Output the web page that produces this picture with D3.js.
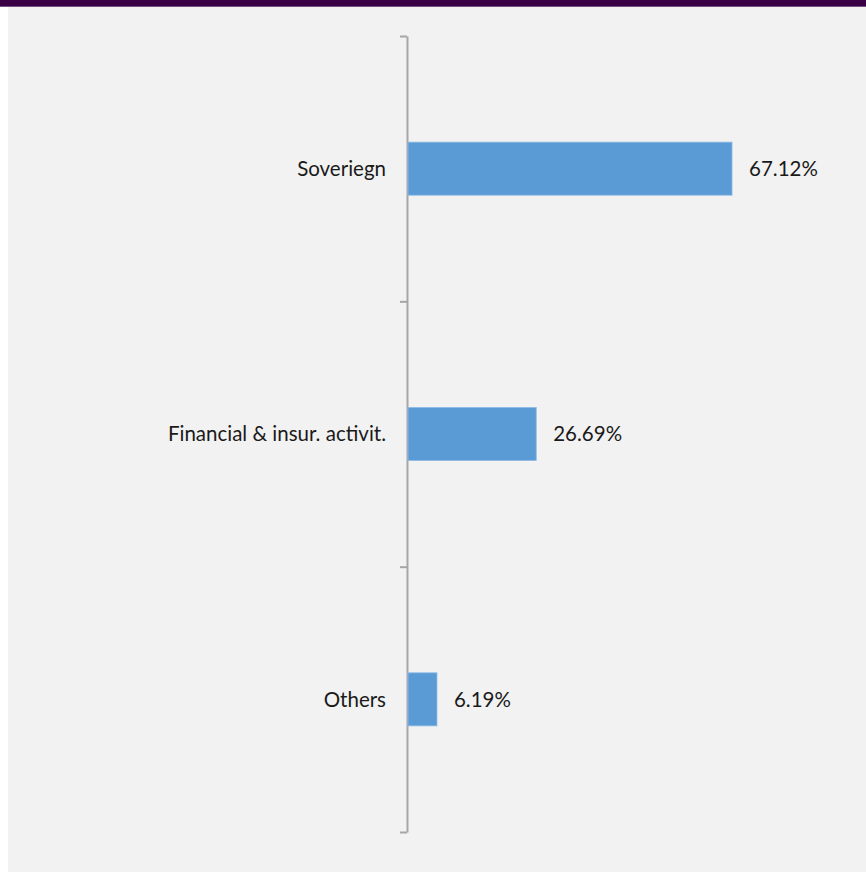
<!DOCTYPE html>
<html>
<head>
<meta charset="utf-8">
<script src="https://cdn.jsdelivr.net/npm/d3@7"></script>
<style>
  html, body { margin: 0; padding: 0; background: #ffffff; }
  #bar-chart { width: 866px; height: 872px; }
  .chart-label { font-family: Lato, "Noto Sans", sans-serif; font-size: 20.5px; fill: #1a1a1a; }
</style>
</head>
<body>
<div id="bar-chart"></div>
<script>
// Data
const categories = ["Soveriegn", "Financial & insur. activit.", "Others"];
const shares = [67.12, 26.69, 6.19];
const valueLabels = ["67.12%", "26.69%", "6.19%"];

const data = categories.map((c, i) => ({category: c, share: shares[i], label: valueLabels[i]}));

const drawBarChart = (data) => {

  /*******************************/
  /*    Declare the constants    */
  /*******************************/
  const width = 866;
  const height = 872;
  const margin = {top: 36, right: 72, bottom: 40, left: 407};
  const innerWidth = width - margin.left - margin.right;
  const innerHeight = height - margin.top - margin.bottom;

  const barColor = "#5b9bd5";
  const axisColor = "#a6a6a6";

  /*******************************/
  /*    Append the containers    */
  /*******************************/
  const svg = d3.select("#bar-chart")
    .append("svg")
      .attr("width", width)
      .attr("height", height)
      .attr("viewBox", `0, 0, ${width}, ${height}`);

  // Panel background and header band
  svg.append("rect")
      .attr("x", 8)
      .attr("y", 0)
      .attr("width", width - 8)
      .attr("height", height)
      .attr("fill", "#f2f2f2");
  svg.append("rect")
      .attr("x", 0)
      .attr("y", 0)
      .attr("width", width)
      .attr("height", 6)
      .attr("fill", "#3a0045");
  svg.append("rect")
      .attr("x", 0)
      .attr("y", 6)
      .attr("width", width)
      .attr("height", 1)
      .attr("fill", "#7a4f86");

  const innerChart = svg
    .append("g")
      .attr("transform", `translate(${margin.left}, ${margin.top})`);

  /****************************/
  /*    Declare the scales    */
  /****************************/
  const xScale = d3.scaleLinear()
    .domain([0, 80])
    .range([0, 387.4]);

  const yScale = d3.scaleBand()
    .domain(data.map(d => d.category))
    .range([0, innerHeight])
    .paddingInner(0.8)
    .paddingOuter(0.4);

  // boundaries between categories, for the tick marks
  const tickScale = d3.scaleLinear()
    .domain([0, data.length])
    .range([0, innerHeight]);

  /***************************/
  /*     Append the axes     */
  /***************************/
  const leftAxis = d3.axisLeft(tickScale)
    .tickValues(d3.range(data.length + 1))
    .tickFormat("")
    .tickSize(7)
    .tickSizeOuter(0);
  const axis = innerChart
    .append("g")
      .attr("class", "axis-y")
      .call(leftAxis);
  axis.select(".domain").attr("stroke", axisColor).attr("stroke-width", 2);
  axis.selectAll(".tick line").attr("stroke", axisColor).attr("stroke-width", 2);

  /************************/
  /*       Draw bars      */
  /************************/
  innerChart
    .selectAll("rect.bar")
    .data(data)
    .join("rect")
      .attr("class", "bar")
      .attr("x", 1)
      .attr("y", d => yScale(d.category))
      .attr("width", d => xScale(d.share) - 1)
      .attr("height", yScale.bandwidth())
      .attr("fill", barColor)
      .attr("stroke", "#8fbbe6")
      .attr("stroke-width", 0.8);

  /************************/
  /*      Add labels      */
  /************************/
  innerChart
    .selectAll("text.value")
    .data(data)
    .join("text")
      .attr("class", "chart-label value")
      .text(d => d.label)
      .attr("x", d => xScale(d.share) + 17)
      .attr("y", d => yScale(d.category) + yScale.bandwidth() / 2)
      .attr("dy", "0.1em")
      .attr("dominant-baseline", "middle");

  innerChart
    .selectAll("text.category")
    .data(data)
    .join("text")
      .attr("class", "chart-label category")
      .text(d => d.category)
      .attr("x", -21)
      .attr("y", d => yScale(d.category) + yScale.bandwidth() / 2)
      .attr("dy", "0.1em")
      .attr("text-anchor", "end")
      .attr("dominant-baseline", "middle");
};

drawBarChart(data);
</script>
</body>
</html>
